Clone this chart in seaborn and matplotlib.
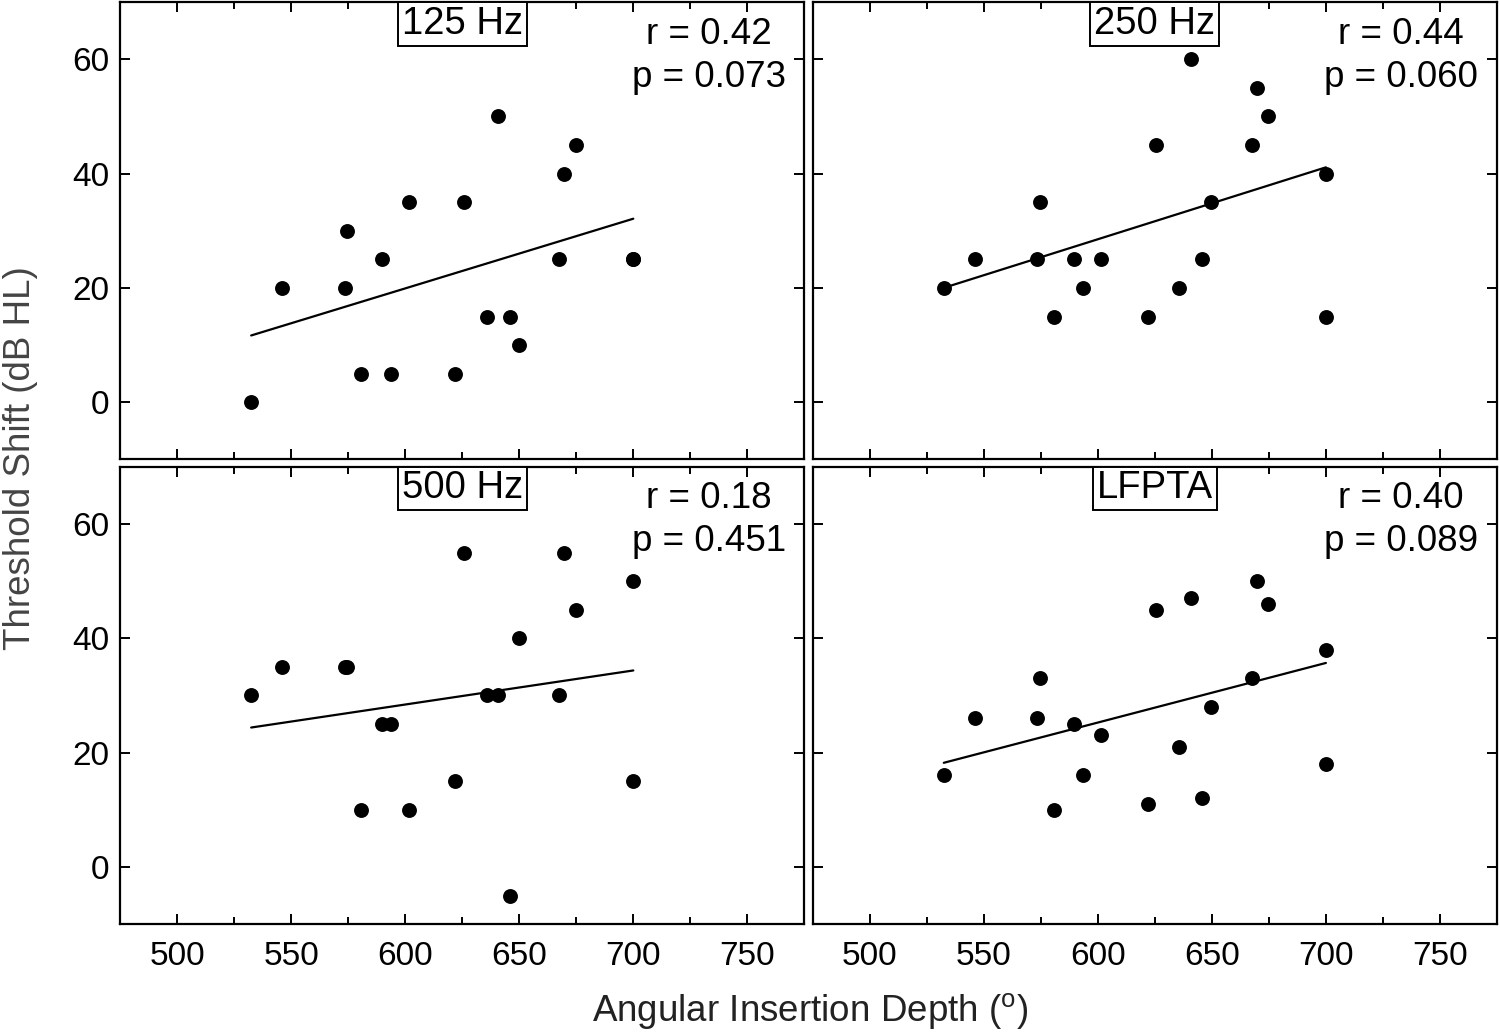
import numpy as np
import pandas as pd
import matplotlib
matplotlib.use('Agg')
import matplotlib.pyplot as plt
from matplotlib.ticker import MultipleLocator
import seaborn as sns

sns.set_theme(style='ticks')
plt.rcParams['font.family'] = ['Liberation Sans', 'DejaVu Sans']
plt.rcParams['mathtext.fontset'] = 'custom'
plt.rcParams['mathtext.rm'] = 'Liberation Sans'

# angular insertion depth (deg), same subjects in every panel
depth = [532.5, 546, 573.5, 574.5, 580.7, 589.7, 593.6, 601.5, 621.8, 625.7,
         635.8, 640.7, 645.8, 649.8, 667.5, 669.7, 674.8, 700, 700]

shift_125 = [0, 20, 20, 30, 5, 25, 5, 35, 5, 35, 15, 50, 15, 10, 25, 40, 45, 25, 25]
shift_250 = [20, 25, 25, 35, 15, 25, 20, 25, 15, 45, 20, 60, 25, 35, 45, 55, 50, 40, 15]
shift_500 = [30, 35, 35, 35, 10, 25, 25, 10, 15, 55, 30, 30, -5, 40, 30, 55, 45, 50, 15]
shift_lfpta = [16, 26, 26, 33, 10, 25, 16, 23, 11, 45, 21, 47, 12, 28, 33, 50, 46, 38, 18]

panel_names = ['125 Hz', '250 Hz', '500 Hz', 'LFPTA']
panel_stats = ['r = 0.42\np = 0.073', 'r = 0.44\np = 0.060',
               'r = 0.18\np = 0.451', 'r = 0.40\np = 0.089']
panel_values = [shift_125, shift_250, shift_500, shift_lfpta]

fig, axes = plt.subplots(2, 2, figsize=(15, 10.36), dpi=100, sharex=True, sharey=True)
fig.subplots_adjust(left=0.08, right=0.998, top=0.998, bottom=0.108,
                    wspace=0.012, hspace=0.016)

for ax, name, stats, vals in zip(axes.flat, panel_names, panel_stats, panel_values):
    df = pd.DataFrame({'depth': depth, 'shift': vals})
    sns.regplot(data=df, x='depth', y='shift', ax=ax, ci=None,
                scatter_kws=dict(s=115, color='black', linewidths=0, alpha=1),
                line_kws=dict(color='black', lw=1.6))
    ax.set_xlim(475, 775)
    ax.set_ylim(-10, 70)
    ax.set_xticks([500, 550, 600, 650, 700, 750])
    ax.xaxis.set_minor_locator(MultipleLocator(25))
    ax.set_yticks([0, 20, 40, 60])
    ax.tick_params(which='both', direction='in', top=True, right=True,
                   labelsize=24, colors='black', width=1.4)
    ax.tick_params(which='major', length=7)
    ax.tick_params(which='minor', length=5)
    ax.tick_params(axis='x', which='major', pad=12)
    ax.tick_params(axis='y', which='major', pad=8)
    for sp in ax.spines.values():
        sp.set_linewidth(1.6)
        sp.set_color('black')
    ax.set_xlabel('')
    ax.set_ylabel('')
    ax.text(0.5, 0.992, name, transform=ax.transAxes, ha='center', va='top',
            fontsize=27.5, color='black',
            bbox=dict(boxstyle='square,pad=0.1', fc='white', ec='black', lw=1.4))
    ax.text(0.86, 0.968, stats, transform=ax.transAxes, ha='center', va='top',
            fontsize=26.5, color='black', linespacing=1.3)

fig.supxlabel(r'Angular Insertion Depth ($^{\mathrm{o}}$)', x=0.54, y=0.004,
              fontsize=26.5, color='#222222')
fig.supylabel('Threshold Shift (dB HL)', x=0.002, y=0.558,
              fontsize=26.5, color='#444444')

fig.savefig('out.png', dpi=100)
